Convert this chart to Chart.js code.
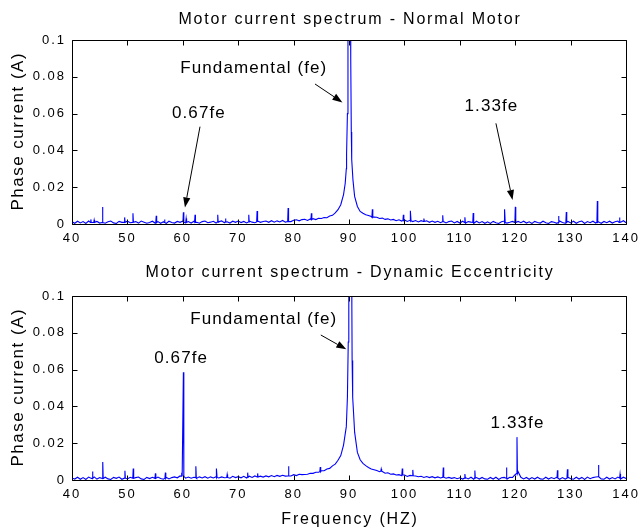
<!DOCTYPE html>
<html><head><meta charset="utf-8">
<script src="https://cdn.jsdelivr.net/npm/chart.js@4/dist/chart.umd.min.js"></script>
<style>
html,body{margin:0;padding:0;background:#fff;}
#wrap{position:relative;width:644px;height:529px;overflow:hidden;}
canvas{position:absolute;left:0;}
#c1{top:0;} #c2{top:260px;}
</style></head><body>
<div id="wrap"><canvas id="c1" width="644" height="260"></canvas><canvas id="c2" width="644" height="269"></canvas></div>
<script>
// ---------- tick labels ----------
const xTicks = [40, 50, 60, 70, 80, 90, 100, 110, 120, 130, 140];
const yTicks = [0, 0.02, 0.04, 0.06, 0.08, 0.1];

// ---------- baseline spectrum grid: 40..140 Hz every 0.5 Hz ----------
const BASE_START = 40, BASE_STEP = 0.5;

// Normal motor: baseline amplitude (A)
const normalBase = [
  .0012,.0004,.0015,.0006,.0013,.0003,.0016,.0008,.0004,.0014,
  .0005,.0015,.0004,.0012,.0016,.0006,.0003,.0014,.0009,.0004,
  .0015,.0007,.0003,.0013,.0005,.0016,.0010,.0004,.0008,.0015,
  .0005,.0013,.0004,.0012,.0003,.0015,.0008,.0005,.0014,.0009,
  .0016,.0006,.0013,.0005,.0015,.0009,.0004,.0013,.0016,.0007,
  .0010,.0015,.0005,.0013,.0017,.0007,.0012,.0005,.0015,.0009,
  .0016,.0008,.0014,.0006,.0016,.0010,.0007,.0017,.0009,.0014,
  .0016,.0009,.0018,.0010,.0017,.0011,.0019,.0010,.0018,.0013,
  .0020,.0023,.0017,.0024,.0026,.0019,.0027,.0029,.0024,.0031,
  .0030,.0035,.0034,.0043,.0047,.0060,.0078,.0105,.0160,.0300,
  .2000,.0350,.0150,.0095,.0068,.0058,.0050,.0046,.0041,.0038,
  .0037,.0030,.0032,.0025,.0028,.0022,.0025,.0018,.0023,.0016,
  .0022,.0014,.0020,.0013,.0019,.0011,.0018,.0010,.0017,.0009,
  .0016,.0009,.0015,.0007,.0014,.0006,.0013,.0016,.0006,.0014,
  .0005,.0015,.0004,.0013,.0010,.0003,.0015,.0006,.0013,.0004,
  .0012,.0003,.0014,.0007,.0003,.0012,.0016,.0005,.0009,.0014,
  .0004,.0014,.0007,.0015,.0005,.0012,.0003,.0014,.0008,.0005,
  .0015,.0007,.0003,.0013,.0010,.0004,.0016,.0008,.0004,.0014,
  .0006,.0015,.0004,.0012,.0016,.0003,.0013,.0007,.0015,.0005,
  .0012,.0004,.0014,.0007,.0015,.0005,.0012,.0016,.0010,.0018,
  .0007
];
// Normal motor: detail around the fundamental
const normalPeakFreq = [89.3, 89.55, 89.7, 89.8, 90.2, 90.3, 90.4, 90.45, 90.7];
const normalPeakAmp  = [.022, .038, .060, .110, .150, .090, .050, .040, .024];
// Normal motor: narrow spectral lines
const normalSpikeFreq = [43.4, 44.0, 45.5, 49.5, 51.0, 55.2, 56.7, 60.1, 60.6, 62.2, 66.3, 67.7, 71.9, 73.4, 79.0, 83.2, 94.2, 99.8, 101.1, 103.5, 106.9, 110.9, 112.4, 118.1, 120.0, 127.8, 129.2, 134.8, 138.8];
const normalSpikeAmp  = [.0025,.0022,.0092,.0036,.0058,.0045,.0024,.0064,.0030,.0050,.0050,.0030,.0050,.0071,.0087,.0058,.0080,.0050,.0072,.0030,.0047,.0037,.0060,.0080,.0093,.0044,.0065,.0125,.0036];
const normalSpikeFoot = [.0008,.0009,.0008,.0009,.0009,.0008,.0008,.0010,.0009,.0010,.0010,.0010,.0011,.0011,.0013,.0024,.0036,.0019,.0017,.0014,.0012,.0009,.0009,.0008,.0008,.0008,.0009,.0009,.0009];

// Dynamic eccentricity: baseline amplitude (A)
const eccBase = [
  .0014,.0005,.0015,.0004,.0013,.0003,.0016,.0008,.0017,.0005,
  .0013,.0004,.0015,.0006,.0003,.0014,.0009,.0016,.0004,.0013,
  .0006,.0015,.0004,.0013,.0016,.0006,.0003,.0014,.0008,.0015,
  .0005,.0016,.0008,.0004,.0015,.0006,.0013,.0017,.0012,.0022,
  .0020,.0010,.0016,.0010,.0015,.0010,.0017,.0011,.0018,.0010,
  .0017,.0011,.0018,.0011,.0017,.0012,.0019,.0010,.0020,.0013,
  .0018,.0012,.0020,.0011,.0021,.0014,.0022,.0013,.0021,.0016,
  .0022,.0017,.0024,.0018,.0025,.0020,.0026,.0021,.0028,.0022,
  .0029,.0024,.0031,.0029,.0030,.0031,.0037,.0036,.0042,.0042,
  .0050,.0050,.0060,.0063,.0077,.0086,.0107,.0133,.0190,.0290,
  .1500,.0950,.0260,.0150,.0110,.0090,.0078,.0068,.0060,.0056,
  .0052,.0045,.0046,.0037,.0039,.0031,.0033,.0027,.0029,.0023,
  .0027,.0019,.0025,.0017,.0022,.0018,.0020,.0014,.0019,.0013,
  .0018,.0012,.0017,.0011,.0015,.0010,.0014,.0009,.0013,.0007,
  .0012,.0005,.0013,.0006,.0015,.0004,.0013,.0005,.0014,.0006,
  .0004,.0014,.0005,.0015,.0003,.0012,.0014,.0005,.0015,.0014,
  .0030,.0045,.0015,.0006,.0014,.0004,.0013,.0005,.0015,.0006,
  .0004,.0015,.0005,.0013,.0007,.0016,.0004,.0013,.0005,.0015,
  .0007,.0004,.0015,.0005,.0014,.0003,.0016,.0007,.0013,.0016,
  .0018,.0006,.0004,.0015,.0005,.0013,.0006,.0016,.0005,.0015,
  .0008
];
const eccPeakFreq = [89.7, 89.85, 89.95, 90.3, 90.45, 90.55, 90.65, 90.8];
const eccPeakAmp  = [.045, .075, .120, .200, .130, .065, .045, .037];
const eccSpikeFreq = [40.0, 43.7, 45.55, 49.55, 51.05, 55.05, 56.85, 59.8, 60.1, 62.35, 66.1, 68.0, 71.7, 73.5, 79.07, 84.8, 95.8, 99.6, 101.5, 107.0, 110.9, 112.7, 118.4, 120.3, 127.6, 129.4, 135.0, 138.9];
const eccSpikeAmp  = [.0115,.0046,.0098,.0050,.0062,.0036,.0040,.0040,.0585,.0075,.0062,.0030,.0040,.0036,.0075,.0070,.0060,.0062,.0055,.0068,.0032,.0052,.0068,.0233,.0053,.0058,.0082,.0032];
const eccSpikeFoot = [.0010,.0009,.0008,.0010,.0010,.0009,.0010,.0020,.0020,.0013,.0014,.0014,.0015,.0016,.0022,.0045,.0048,.0028,.0023,.0015,.0010,.0010,.0010,.0035,.0010,.0010,.0018,.0010];

// ---------- annotations (data coordinates) ----------
const normalNotes = [
  {text: 'Fundamental (fe)', x: 72.7, y: 0.0848, from: [83.85, 0.0761], to: [88.8, 0.0661]},
  {text: '0.67fe', x: 62.8, y: 0.0603, from: [63.1, 0.0529], to: [60.38, 0.0090]},
  {text: '1.33fe', x: 115.6, y: 0.0641, from: [116.5, 0.0547], to: [119.5, 0.0130]}
];
const eccNotes = [
  {text: 'Fundamental (fe)', x: 74.5, y: 0.0873, from: [84.9, 0.0788], to: [89.5, 0.0710]},
  {text: '0.67fe', x: 59.6, y: 0.0661},
  {text: '1.33fe', x: 120.3, y: 0.0308}
];

// ---------- build ----------
const SPIKE_HALF = 0.08;
function buildSeries(base, pkF, pkA, spF, spA, spFoot) {
  const pts = [];
  base.forEach((v, i) => {
    const f = BASE_START + i * BASE_STEP;
    if (!spF.some(s => Math.abs(s - f) < SPIKE_HALF)) pts.push({x: f, y: v});
  });
  pkF.forEach((f, i) => pts.push({x: f, y: pkA[i]}));
  spF.forEach((f, i) => {
    pts.push({x: f - SPIKE_HALF, y: spFoot[i]}, {x: f, y: spA[i]}, {x: f + SPIKE_HALF, y: spFoot[i]});
  });
  pts.sort((a, b) => a.x - b.x);
  return pts;
}

const FONT = '"Liberation Sans", Arial, Helvetica, sans-serif';
function drawText(ctx, s, x, y, size, ls, rot) {
  ctx.save();
  ctx.font = size + 'px ' + FONT;
  try { ctx.letterSpacing = ls + 'px'; } catch (e) {}
  ctx.fillStyle = '#000';
  ctx.textAlign = 'center';
  ctx.textBaseline = 'middle';
  ctx.translate(x, y);
  if (rot) ctx.rotate(rot);
  ctx.fillText(s, ls / 2, 0);
  ctx.restore();
}
function drawArrow(ctx, x1, y1, x2, y2) {
  const a = Math.atan2(y2 - y1, x2 - x1);
  const L = 10, W = 3.6;
  ctx.save();
  ctx.strokeStyle = '#000'; ctx.fillStyle = '#000'; ctx.lineWidth = 1;
  ctx.beginPath();
  ctx.moveTo(x1, y1);
  ctx.lineTo(x2 - L * Math.cos(a), y2 - L * Math.sin(a));
  ctx.stroke();
  ctx.beginPath();
  ctx.moveTo(x2, y2);
  ctx.lineTo(x2 - L * Math.cos(a) + W * Math.sin(a), y2 - L * Math.sin(a) - W * Math.cos(a));
  ctx.lineTo(x2 - L * Math.cos(a) - W * Math.sin(a), y2 - L * Math.sin(a) + W * Math.cos(a));
  ctx.closePath();
  ctx.fill();
  ctx.restore();
}

const decor = {
  id: 'decor',
  beforeDraw(chart) { try { chart.ctx.letterSpacing = '2px'; } catch (e) {} },
  afterDatasetsDraw(chart) {
    const ctx = chart.ctx, ca = chart.chartArea;
    const xs = chart.scales.x, ys = chart.scales.y;
    const L = Math.round(ca.left) + 0.5, R = Math.round(ca.right) + 0.5;
    const T = Math.round(ca.top) + 0.5, B = Math.round(ca.bottom) + 0.5;
    ctx.save();
    try { ctx.letterSpacing = '0px'; } catch (e) {}
    ctx.strokeStyle = '#000'; ctx.lineWidth = 1;
    ctx.beginPath();
    ctx.rect(L, T, R - L, B - T);
    ctx.stroke();
    const tl = 5;
    ctx.beginPath();
    xTicks.forEach(v => {
      const px = Math.round(xs.getPixelForValue(v)) + 0.5;
      ctx.moveTo(px, B); ctx.lineTo(px, B - tl);
      ctx.moveTo(px, T); ctx.lineTo(px, T + tl);
    });
    yTicks.forEach(v => {
      const py = Math.round(ys.getPixelForValue(v)) + 0.5;
      ctx.moveTo(L, py); ctx.lineTo(L + tl, py);
      ctx.moveTo(R, py); ctx.lineTo(R - tl, py);
    });
    ctx.stroke();
    ctx.restore();
  },
  afterDraw(chart) {
    const ctx = chart.ctx, ca = chart.chartArea;
    const xs = chart.scales.x, ys = chart.scales.y;
    const o = chart.options.plugins.decor;
    const cx = (ca.left + ca.right) / 2;
    drawText(ctx, o.title, cx, o.titleY, 16, 1.8);
    drawText(ctx, 'Phase current (A)', 18, (ca.top + ca.bottom) / 2, 17, 1.5, -Math.PI / 2);
    if (o.xLabel) drawText(ctx, o.xLabel, cx, o.xLabelY, 16, 1.8);
    o.notes.forEach(n => {
      drawText(ctx, n.text, xs.getPixelForValue(n.x), ys.getPixelForValue(n.y), 17, 1.1);
      if (n.from) drawArrow(ctx, xs.getPixelForValue(n.from[0]), ys.getPixelForValue(n.from[1]),
                                 xs.getPixelForValue(n.to[0]), ys.getPixelForValue(n.to[1]));
    });
  }
};

function makeChart(id, data, padTop, xAxisH, title, titleY, notes, xLabel, xLabelY) {
  return new Chart(document.getElementById(id), {
    type: 'line',
    data: { datasets: [{ data: data, borderColor: '#0000ff', borderWidth: 1.1, pointRadius: 0, tension: 0, fill: false }] },
    options: {
      responsive: false, animation: false, devicePixelRatio: 1,
      layout: { padding: { left: 0, right: 14, top: padTop, bottom: 0 } },
      plugins: { legend: { display: false }, tooltip: { enabled: false },
        decor: { title: title, titleY: titleY, notes: notes, xLabel: xLabel, xLabelY: xLabelY } },
      scales: {
        x: { type: 'linear', min: 40, max: 140,
             afterBuildTicks: s => { s.ticks = xTicks.map(v => ({ value: v })); },
             afterFit: s => { s.height = xAxisH; },
             grid: { display: false, drawTicks: false }, border: { display: false },
             ticks: { color: '#000', padding: 7, maxRotation: 0, autoSkip: false,
                      font: { family: FONT, size: 13 }, callback: v => String(v) } },
        y: { type: 'linear', min: 0, max: 0.1,
             afterBuildTicks: s => { s.ticks = yTicks.map(v => ({ value: v })); },
             afterFit: s => { s.width = 72; },
             grid: { display: false, drawTicks: false }, border: { display: false },
             ticks: { color: '#000', padding: 6, autoSkip: false,
                      font: { family: FONT, size: 13 }, callback: v => String(+v.toFixed(2)) } }
      }
    },
    plugins: [decor]
  });
}

makeChart('c1', buildSeries(normalBase, normalPeakFreq, normalPeakAmp, normalSpikeFreq, normalSpikeAmp, normalSpikeFoot),
  40, 36, 'Motor current spectrum - Normal Motor', 20, normalNotes, null, 0);
makeChart('c2', buildSeries(eccBase, eccPeakFreq, eccPeakAmp, eccSpikeFreq, eccSpikeAmp, eccSpikeFoot),
  36, 49, 'Motor current spectrum - Dynamic Eccentricity', 13, eccNotes, 'Frequency (HZ)', 260);
</script>
</body></html>
